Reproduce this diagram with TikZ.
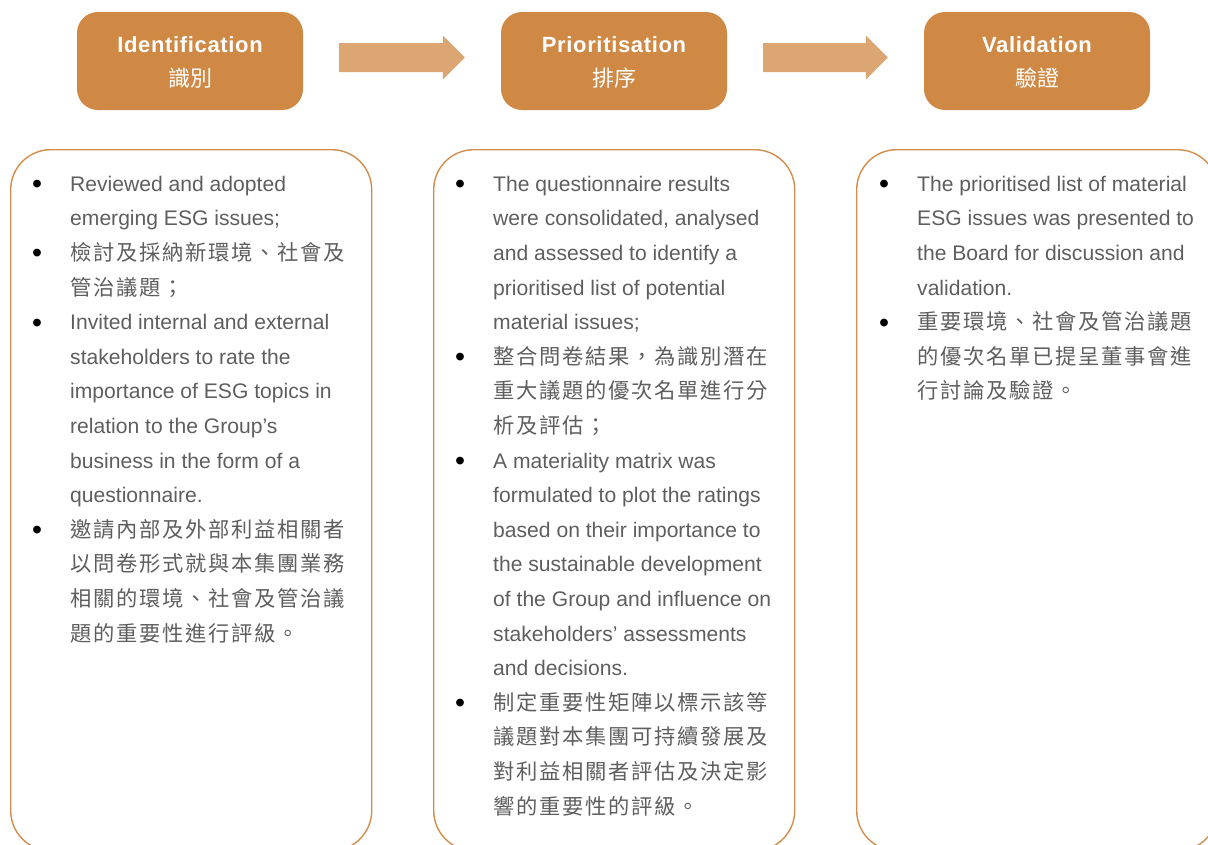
\documentclass[tikz,border=0pt]{standalone}
\usepackage{fontspec}
\setmainfont{Liberation Sans}
\newfontfamily\cjkfont{Noto Sans CJK TC}[LetterSpace=8]
\newfontfamily\cjkhead{Noto Sans CJK TC}
\newfontfamily\headfont{Liberation Sans}[LetterSpace=3]
\usetikzlibrary{calc}
\definecolor{hdrfill}{HTML}{CF8944}
\definecolor{arrfill}{HTML}{DCA673}
\definecolor{boxline}{HTML}{D28C4B}
\definecolor{bodytext}{HTML}{5E5E5E}
\newcommand\bul{\strut\llap{\raisebox{-2.4pt}{\textcolor{black}{\scalebox{1.35}{•}}}\hspace{28pt}}}
\newcommand\cj[1]{{\cjkfont\fontsize{21.3}{34.6}\selectfont #1}}
\tikzset{
  hdrbox/.style={fill=hdrfill, rounded corners=21pt, minimum width=226pt, minimum height=98pt, inner sep=0pt},
  hdrtxt/.style={text=white, inner sep=0pt, anchor=base, font=\headfont\bfseries\fontsize{22}{25}\selectfont},
  hdrcjk/.style={text=white, inner sep=0pt, anchor=base, font=\cjkhead\fontsize{22}{25}\selectfont},
  contentbox/.style={draw=boxline, line width=1.4pt, rounded corners=40pt, minimum width=361pt, minimum height=701pt, anchor=north west, inner sep=0pt},
  bodytxt/.style={text=bodytext, align=left, anchor=north west, inner sep=0pt, font=\fontsize{21.1}{34.6}\selectfont},
  blockarrow/.style={fill=arrfill}
}
\begin{document}
\begin{tikzpicture}[x=1pt,y=-1pt]
\useasboundingbox (0,0) rectangle (1208,844);
\clip (0,0) rectangle (1208,844);
% header boxes
\node[hdrbox] (h1) at (190,61) {};
\node[hdrbox] (h2) at (614,61) {};
\node[hdrbox] (h3) at (1037,61) {};
\node[hdrtxt] (h1e) at ($(h1.center)+(0,-9)$) {Identification};
\node[hdrcjk] (h1c) at ($(h1.center)+(0,25.5)$) {識別};
\node[hdrtxt] (h2e) at ($(h2.center)+(0,-9)$) {Prioritisation};
\node[hdrcjk] (h2c) at ($(h2.center)+(0,25.5)$) {排序};
\node[hdrtxt] (h3e) at ($(h3.center)+(0,-9)$) {Validation};
\node[hdrcjk] (h3c) at ($(h3.center)+(0,25.5)$) {驗證};
% block arrows
\coordinate (a1s) at ($(h1.east)+(36,-3.5)$);
\coordinate (a1e) at ($(h2.west)+(-36,-3.5)$);
\fill[blockarrow] ($(a1s)+(0,-14.5)$) -- ($(a1e)+(-22,-14.5)$) -- ($(a1e)+(-22,-22)$) -- (a1e) -- ($(a1e)+(-22,22)$) -- ($(a1e)+(-22,14.5)$) -- ($(a1s)+(0,14.5)$) -- cycle;
\coordinate (a2s) at ($(h2.east)+(36,-3.5)$);
\coordinate (a2e) at ($(h3.west)+(-36,-3.5)$);
\fill[blockarrow] ($(a2s)+(0,-14.5)$) -- ($(a2e)+(-22,-14.5)$) -- ($(a2e)+(-22,-22)$) -- (a2e) -- ($(a2e)+(-22,22)$) -- ($(a2e)+(-22,14.5)$) -- ($(a2s)+(0,14.5)$) -- cycle;
% content boxes
\node[contentbox] (b1) at (10,149) {};
\node[contentbox] (b2) at (433,149) {};
\node[contentbox] (b3) at (856,149) {};
% texts
\node[bodytxt] (t1) at (70,166.78) {%
\bul Reviewed and adopted\\
emerging ESG issues;\\
\bul\cj{檢討及採納新環境、社會及}\\
\cj{管治議題；}\\
\bul Invited internal and external\\
stakeholders to rate the\\
importance of ESG topics in\\
relation to the Group’s\\
business in the form of a\\
questionnaire.\\
\bul\cj{邀請內部及外部利益相關者}\\
\cj{以問卷形式就與本集團業務}\\
\cj{相關的環境、社會及管治議}\\
\cj{題的重要性進行評級。}};
\node[bodytxt] (t2) at (493,166.78) {%
\bul The questionnaire results\\
were consolidated, analysed\\
and assessed to identify a\\
prioritised list of potential\\
material issues;\\
\bul\cj{整合問卷結果，為識別潛在}\\
\cj{重大議題的優次名單進行分}\\
\cj{析及評估；}\\
\bul A materiality matrix was\\
formulated to plot the ratings\\
based on their importance to\\
the sustainable development\\
of the Group and influence on\\
stakeholders’ assessments\\
and decisions.\\
\bul\cj{制定重要性矩陣以標示該等}\\
\cj{議題對本集團可持續發展及}\\
\cj{對利益相關者評估及決定影}\\
\cj{響的重要性的評級。}};
\node[bodytxt] (t3) at (917,166.78) {%
\bul The prioritised list of material\\
ESG issues was presented to\\
the Board for discussion and\\
validation.\\
\bul\cj{重要環境、社會及管治議題}\\
\cj{的優次名單已提呈董事會進}\\
\cj{行討論及驗證。}};
\end{tikzpicture}
\end{document}
